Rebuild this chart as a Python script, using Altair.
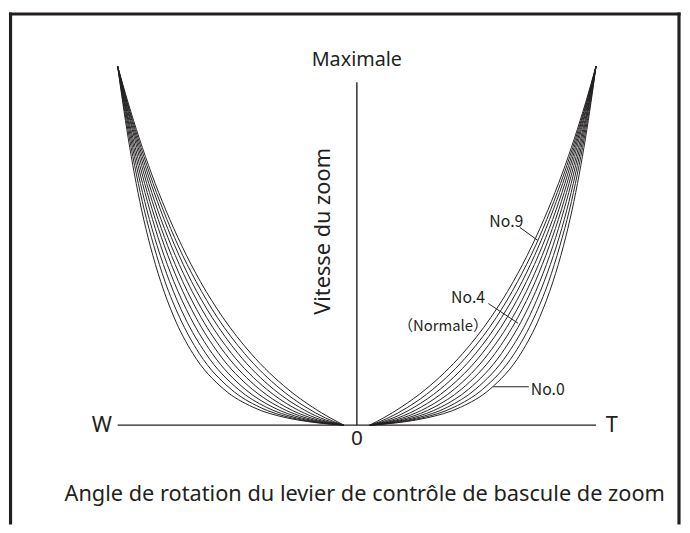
import altair as alt
import pandas as pd

# ---- data (percent of max angle / percent of max speed) ----
speed_levels = [0, 1, 2, 5, 10, 20, 30, 40, 50, 60, 70, 80, 90, 100]
curve_names = ["No.0", "No.1", "No.2", "No.3", "No.4", "No.5", "No.6", "No.7", "No.8", "No.9"]
angle_no0 = [5.4, 20.6, 29.1, 43.4, 55.6, 68.6, 76.4, 82.0, 86.4, 90.0, 93.0, 95.6, 97.9, 100]
angle_no1 = [5.4, 19.2, 27.1, 40.6, 52.6, 65.9, 74.1, 80.2, 84.9, 88.9, 92.2, 95.1, 97.7, 100]
angle_no2 = [5.4, 17.9, 25.1, 37.9, 49.6, 63.2, 71.9, 78.3, 83.5, 87.8, 91.4, 94.6, 97.4, 100]
angle_no3 = [5.4, 16.5, 23.1, 35.1, 46.7, 60.5, 69.6, 76.5, 82.0, 86.6, 90.6, 94.1, 97.2, 100]
angle_no4 = [5.4, 15.1, 21.1, 32.3, 43.7, 57.8, 67.3, 74.6, 80.5, 85.5, 89.8, 93.6, 97.0, 100]
angle_no5 = [5.4, 13.8, 19.1, 29.6, 40.7, 55.1, 65.1, 72.8, 79.1, 84.4, 89.0, 93.0, 96.7, 100]
angle_no6 = [5.4, 12.4, 17.1, 26.8, 37.7, 52.4, 62.8, 70.9, 77.6, 83.3, 88.2, 92.5, 96.5, 100]
angle_no7 = [5.4, 11.0, 15.1, 24.0, 34.8, 49.7, 60.5, 69.1, 76.1, 82.1, 87.4, 92.0, 96.2, 100]
angle_no8 = [5.4, 9.7, 13.1, 21.3, 31.8, 47.0, 58.3, 67.2, 74.7, 81.0, 86.6, 91.5, 96.0, 100]
angle_no9 = [5.4, 8.3, 11.1, 18.5, 28.8, 44.3, 56.0, 65.4, 73.2, 79.9, 85.8, 91.0, 95.7, 100]
all_angles = [angle_no0, angle_no1, angle_no2, angle_no3, angle_no4,
              angle_no5, angle_no6, angle_no7, angle_no8, angle_no9]

# annotation texts
label_texts = ["Maximale", "W", "T", "0"]
label_u = [0, -106.6, 106.6, 0]
label_v = [101.8, 0, 0, -3.9]
label_size = [20, 22, 22, 21]

curve_labels = ["No.9", "No.4", "（Normale）", "No.0"]
curve_label_u = [62.5, 46.5, 36.0, 79.8]
curve_label_v = [56.5, 35.3, 27.5, 9.9]
curve_label_size = [16, 16, 15, 16]

leader_u = [68.2, 55.0, 57.0]
leader_u2 = [75.6, 67.4, 71.9]
leader_v = [55.1, 33.9, 10.7]
leader_v2 = [51.5, 28.4, 10.7]

y_title = "Vitesse du zoom"
x_title = "Angle de rotation du levier de contrôle de bascule de zoom"

# ---- tables ----
rows = []
for name, angles in zip(curve_names, all_angles):
    for side, sgn in (("right", 1), ("left", -1)):
        for s, a in zip(speed_levels, angles):
            rows.append({"curve": name, "side": side, "u": sgn * a, "v": s})
curves_df = pd.DataFrame(rows)

INK = "#231f20"
FONT = "Noto Sans"
FONT_CJK = "Noto Sans CJK JP"
xs = alt.Scale(domain=[-145.45, 135.54], nice=False, zero=False)
ys = alt.Scale(domain=[-27.27, 115.15], nice=False, zero=False)

def X(f):
    return alt.X(f, type="quantitative", scale=xs, axis=None)

def Y(f):
    return alt.Y(f, type="quantitative", scale=ys, axis=None)

curves = alt.Chart(curves_df).mark_line(
    stroke=INK, strokeWidth=1, interpolate="monotone", clip=False
).encode(
    x=X("u"), y=Y("v"),
    detail=alt.Detail(["curve:N", "side:N"]),
    order=alt.Order("v:Q"),
)

axes_df = pd.DataFrame({"u": [-100, 0], "u2": [100, 0], "v": [0, 0], "v2": [0, 95.6]})
axes = alt.Chart(axes_df).mark_rule(stroke=INK, strokeWidth=1.4).encode(
    x=X("u"), x2="u2", y=Y("v"), y2="v2"
)

border_df = pd.DataFrame({
    "u": [-144.8, -144.8, 134.7],
    "u2": [134.7, -144.8, 134.7],
    "v": [114.6, 114.6, 114.6],
    "v2": [114.6, -27.27, -27.27],
})
border = alt.Chart(border_df).mark_rule(stroke=INK, strokeWidth=3.2, strokeCap="square").encode(
    x=X("u"), x2="u2", y=Y("v"), y2="v2"
)

leader_df = pd.DataFrame({"u": leader_u, "u2": leader_u2, "v": leader_v, "v2": leader_v2})
leaders = alt.Chart(leader_df).mark_rule(stroke=INK, strokeWidth=1).encode(
    x=X("u"), x2="u2", y=Y("v"), y2="v2"
)

lab_df = pd.DataFrame({"t": label_texts, "u": label_u, "v": label_v, "s": label_size})
labels = alt.Chart(lab_df).mark_text(
    font=FONT, color=INK, align="center", baseline="middle"
).encode(
    x=X("u"), y=Y("v"), text="t:N",
    size=alt.Size("s:Q", scale=None, legend=None),
)

cl_df = pd.DataFrame({"t": curve_labels, "u": curve_label_u, "v": curve_label_v,
                      "s": curve_label_size})
clabels = alt.Chart(cl_df).mark_text(
    font=FONT_CJK, color=INK, align="center", baseline="middle"
).encode(
    x=X("u"), y=Y("v"), text="t:N",
    size=alt.Size("s:Q", scale=None, legend=None),
)

ytitle = alt.Chart(pd.DataFrame({"t": [y_title], "u": [-14.0], "v": [54.0]})).mark_text(
    font=FONT, color=INK, fontSize=22, angle=270, align="center", baseline="middle"
).encode(x=X("u"), y=Y("v"), text="t:N")

xtitle = alt.Chart(pd.DataFrame({"t": [x_title], "u": [3.3], "v": [-19.3]})).mark_text(
    font=FONT, color=INK, fontSize=22, align="center", baseline="middle"
).encode(x=X("u"), y=Y("v"), text="t:N")

chart = alt.layer(border, axes, curves, leaders, labels, clabels, ytitle, xtitle).properties(
    width=680, height=517, padding=0, background="white"
).configure_view(stroke=None)

chart.save("out.html", embed_options={"renderer": "svg", "actions": False})
